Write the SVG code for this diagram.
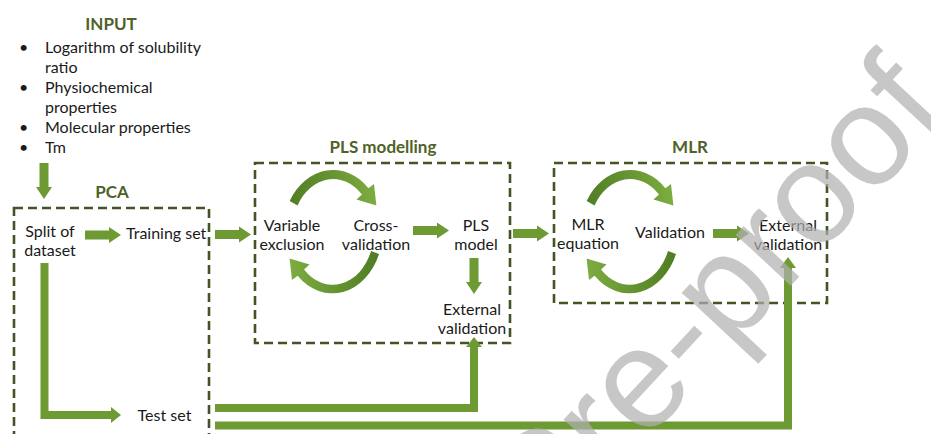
<svg xmlns="http://www.w3.org/2000/svg" xmlns:xlink="http://www.w3.org/1999/xlink" width="931" height="434" viewBox="0 0 931 434">
<defs>
<style>
.t{font-family:Lato,"Liberation Sans",sans-serif;font-size:16px;fill:#1a1a1a}
.m{text-anchor:middle}
.h{font-family:Lato,"Liberation Sans",sans-serif;font-weight:bold;font-size:17px;fill:#4f6228;text-anchor:middle}
.box{fill:none;stroke:#435425;stroke-width:2.6;stroke-dasharray:9 5}
.arr{fill:#6d9a32}
.ln{fill:none;stroke:#6d9a32;stroke-width:8}
.wm{font-family:"Liberation Sans",Arial,sans-serif;font-size:142px;fill:#b0b0b0;opacity:0.7;text-anchor:end}
</style>
<path id="ra" d="M0,-4.5H24V-8L36,0L24,8V4.5H0Z"/>
<linearGradient id="cg" gradientUnits="userSpaceOnUse" x1="-50" y1="0" x2="50" y2="0">
<stop offset="0" stop-color="#4e7a22"/>
<stop offset="1" stop-color="#80b043"/>
</linearGradient>
<path id="cyc" fill="url(#cg)" d="M-43.3,-31A50,62 0 0 1 35.4,-43.8L41,-48L43.4,-26.6L23.5,-32.5L29,-37.5A41,53 0 0 0 -35.5,-26.5Z"/>
<path id="cycb" fill="url(#cg)" d="M-46,-22A50,62 0 0 1 35.4,-43.8L41,-48L43.4,-26.6L23.5,-32.5L29,-37.5A41,53 0 0 0 -38,-19Z"/>
</defs>
<rect width="931" height="434" fill="#fff"/>

<g id="input">
<text class="h" x="111" y="30">INPUT</text>
<text class="t" x="19" y="53">•</text>
<text class="t" x="45" y="53">Logarithm of solubility</text>
<text class="t" x="45" y="73">ratio</text>
<text class="t" x="19" y="93">•</text>
<text class="t" x="45" y="93">Physiochemical</text>
<text class="t" x="45" y="113">properties</text>
<text class="t" x="19" y="133">•</text>
<text class="t" x="45" y="133">Molecular properties</text>
<text class="t" x="19" y="153">•</text>
<text class="t" x="45" y="153">Tm</text>
</g>

<g id="pca">
<rect class="box" x="14" y="208" width="195" height="250"/>
<text class="h" x="112" y="198">PCA</text>
</g>
<g id="split"><text class="t m" x="50" y="237">Split of</text><text class="t m" x="50" y="256">dataset</text></g>
<g id="training"><text class="t" x="126" y="239">Training set</text></g>
<g id="testset"><text class="t m" x="164.5" y="421">Test set</text></g>

<g id="pls">
<rect class="box" x="255" y="163" width="255" height="180"/>
<text class="h" x="383" y="153">PLS modelling</text>
</g>
<g id="varexcl"><text class="t m" x="292" y="231">Variable</text><text class="t m" x="292" y="250">exclusion</text></g>
<g id="crossval"><text class="t m" x="376" y="231">Cross-</text><text class="t m" x="376" y="250">validation</text></g>
<g id="plsmodel"><text class="t m" x="476" y="231">PLS</text><text class="t m" x="476" y="250">model</text></g>
<g id="plsext"><text class="t m" x="472" y="315">External</text><text class="t m" x="472" y="334">validation</text></g>

<g id="mlr">
<rect class="box" x="554" y="163" width="273" height="140"/>
<text class="h" x="690" y="153">MLR</text>
</g>
<g id="mlreq"><text class="t m" x="588" y="230">MLR</text><text class="t m" x="588" y="249">equation</text></g>
<g id="mlrval"><text class="t m" x="670" y="238">Validation</text></g>
<g id="mlrext"><text class="t m" x="788" y="231">External</text><text class="t m" x="788" y="250">validation</text></g>

<g id="connectors">
<use xlink:href="#ra" class="arr" transform="translate(44,163) rotate(90)"/>
<use xlink:href="#ra" class="arr" transform="translate(85,235)"/>
<use xlink:href="#ra" class="arr" transform="translate(215,234.5)"/>
<use xlink:href="#ra" class="arr" transform="translate(413,230.5)"/>
<use xlink:href="#ra" class="arr" transform="translate(474,258) rotate(90)"/>
<use xlink:href="#ra" class="arr" transform="translate(513,233.5)"/>
<use xlink:href="#ra" class="arr" transform="translate(713,233.5)"/>
<use xlink:href="#cyc" transform="translate(333,232)"/>
<use xlink:href="#cycb" transform="translate(333,232) rotate(180)"/>
<use xlink:href="#cyc" transform="translate(630,232)"/>
<use xlink:href="#cycb" transform="translate(630,232) rotate(180)"/>
<path class="ln" d="M44.5,263V415H112"/>
<path class="arr" d="M111,407L121,415L111,423Z"/>
<path class="ln" stroke-width="7" d="M215,408H474V346"/>
<path class="arr" d="M466,347L474,337L482,347Z"/>
<path class="ln" stroke-width="7" d="M215,425.5H788V267"/>
<path class="arr" d="M780,268L788,257L796,268Z"/>
</g>

<text class="wm" transform="translate(951,114) rotate(-47)">Journal Pre-proof</text>
</svg>
